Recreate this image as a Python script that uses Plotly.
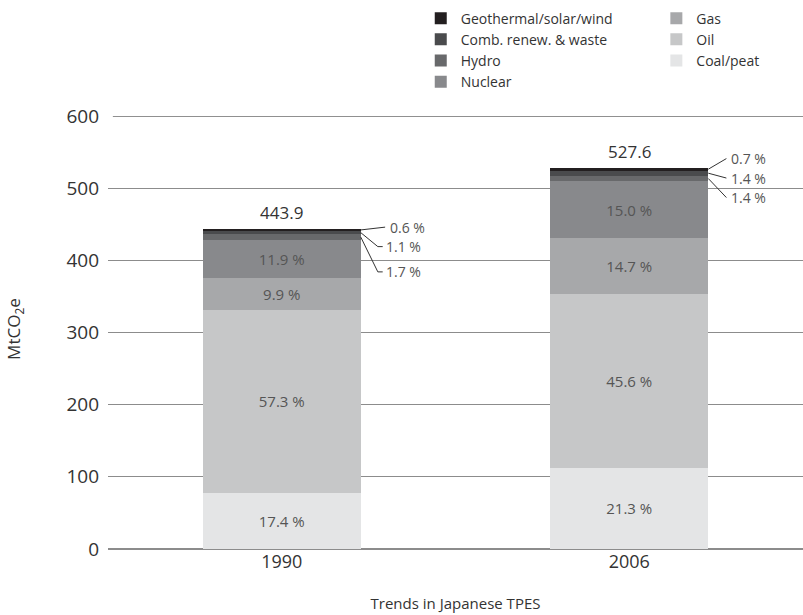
import plotly.graph_objects as go

# Japanese TPES share by source, with totals (MtCO2e)
years = ["1990", "2006"]
totals = [443.9, 527.6]

sources = ["Coal/peat", "Oil", "Gas", "Nuclear", "Hydro",
           "Comb. renew. & waste", "Geothermal/solar/wind"]
shares = {
    "Coal/peat": [17.4, 21.3],
    "Oil": [57.3, 45.6],
    "Gas": [9.9, 14.7],
    "Nuclear": [11.9, 15.0],
    "Hydro": [1.7, 1.4],
    "Comb. renew. & waste": [1.1, 1.4],
    "Geothermal/solar/wind": [0.6, 0.7],
}
colors = {
    "Coal/peat": "#e4e5e6",
    "Oil": "#c6c7c8",
    "Gas": "#a7a8aa",
    "Nuclear": "#88898c",
    "Hydro": "#68696b",
    "Comb. renew. & waste": "#4a4b4d",
    "Geothermal/solar/wind": "#231f20",
}
small = ["Hydro", "Comb. renew. & waste", "Geothermal/solar/wind"]

FONT = "Open Sans"
BW = 0.455

fig = go.Figure()
cum = [0.0, 0.0]
mids = {}
for s in sources:
    vals = [totals[i] * shares[s][i] / 100 for i in range(2)]
    mids[s] = [cum[i] + vals[i] / 2 for i in range(2)]
    cum = [cum[i] + vals[i] for i in range(2)]
    txt = ["" if s in small else f"{p:.1f} %" for p in shares[s]]
    fig.add_trace(go.Bar(
        x=years, y=vals, name=s, width=BW,
        marker=dict(color=colors[s], line=dict(width=0)),
        text=txt, textposition="inside", insidetextanchor="middle",
        textangle=0, textfont=dict(family=FONT, size=15, color="#555555"),
        hoverinfo="skip",
        legend="legend2" if s in ["Coal/peat", "Oil", "Gas"] else "legend",
    ))

# totals above bars
for i, t in enumerate(totals):
    fig.add_annotation(x=i, y=cum[i], text=f"{t:.1f}", showarrow=False,
                       yanchor="bottom", yshift=3,
                       font=dict(family=FONT, size=17, color="#333333"))

# leader lines for small shares
right = [i + BW / 2 for i in range(2)]
label_y = {0: [384, 419, 446], 1: [487, 514, 541]}
for i in range(2):
    for k, s in enumerate(small):
        ly = label_y[i][k]
        y0 = mids[s][i]
        if i == 0 and k == 2:
            path = f"M {right[i]},{y0} L {right[i] + 0.07},{ly}"
            tx = right[i] + 0.078
        elif i == 0:
            path = (f"M {right[i]},{y0} L {right[i] + 0.049},{ly} "
                    f"L {right[i] + 0.063},{ly}")
            tx = right[i] + 0.066
        else:
            path = f"M {right[i]},{y0} L {right[i] + 0.052},{ly}"
            tx = right[i] + 0.06
        fig.add_shape(type="path", path=path, xref="x", yref="y",
                      line=dict(color="#333333", width=1))
        fig.add_annotation(x=tx, y=ly, text=f"{shares[s][i]:.1f} %",
                           showarrow=False, xanchor="left",
                           font=dict(family=FONT, size=14, color="#555555"))

# darker top gridline
fig.add_shape(type="line", xref="paper", yref="y", x0=0.007, x1=1,
              y0=600, y1=600, line=dict(color="#222222", width=1),
              layer="below")

fig.add_annotation(xref="paper", yref="y", x=0, xshift=-93, y=305,
                   xanchor="center", yanchor="middle",
                   text="MtCO<sub>2</sub>e", textangle=-90, showarrow=False,
                   font=dict(family=FONT, size=17, color="#333333"))

fig.update_layout(
    width=803, height=615,
    margin=dict(l=108, r=0, t=116, b=66),
    paper_bgcolor="white", plot_bgcolor="white",
    barmode="stack",
    font=dict(family=FONT, color="#333333"),
    uniformtext=dict(minsize=15, mode="show"),
    legend=dict(x=0.45, y=1.262, xanchor="left", yanchor="top",
                traceorder="reversed", font=dict(family=FONT, size=14),
                itemclick=False, bgcolor="rgba(0,0,0,0)", tracegroupgap=0),
    legend2=dict(x=0.789, y=1.262, xanchor="left", yanchor="top",
                 traceorder="reversed", font=dict(family=FONT, size=14),
                 itemclick=False, bgcolor="rgba(0,0,0,0)", tracegroupgap=0),
    xaxis=dict(range=[-0.5, 1.5], showgrid=False, showline=False,
               automargin=False,
               ticks="", tickfont=dict(family=FONT, size=18, color="#333333"),
               title=dict(text="Trends in Japanese TPES", standoff=26,
                          font=dict(family=FONT, size=15, color="#333333"))),
    yaxis=dict(range=[0, 600], dtick=100, showgrid=True, automargin=False,
               gridcolor="#8c8c8c", gridwidth=1,
               zeroline=True, zerolinecolor="#8c8c8c", zerolinewidth=2,
               ticks="", ticklabelstandoff=8,
               tickfont=dict(family=FONT, size=19, color="#333333")),
)

# page has a default body margin; drop it so the figure sits at 0,0
fig.write_html("out.html", config={"displayModeBar": False},
               post_script="document.body.style.margin='0';")
